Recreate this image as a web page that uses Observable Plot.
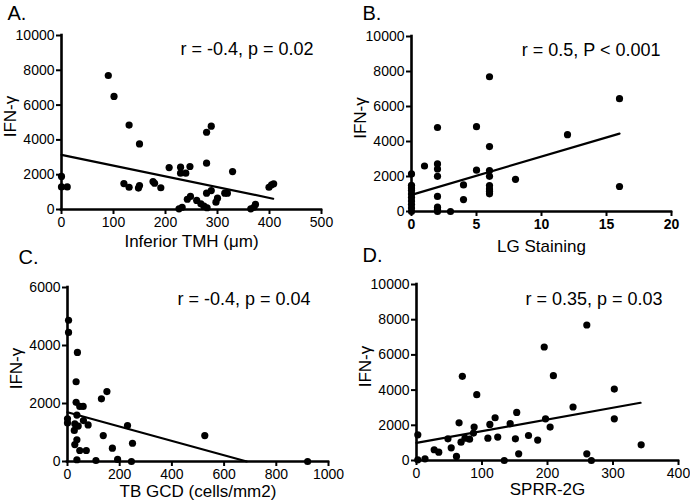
<!DOCTYPE html>
<html>
<head>
<meta charset="utf-8">
<script src="https://cdn.jsdelivr.net/npm/d3@7"></script>
<script src="https://cdn.jsdelivr.net/npm/@observablehq/plot@0.6"></script>
<style>
  body { margin: 0; background: #fff; }
  #wrap { position: relative; width: 690px; height: 504px; font-family: "Liberation Sans", Arial, sans-serif; }
  .panel { position: absolute; }
</style>
</head>
<body>
<div id="wrap"></div>
<script>
// ---- Panel A: Inferior TMH vs IFN-γ ----
const tmhX = [0, 0, 11, 90, 101, 130, 150, 120, 130, 148, 150, 176, 179, 191, 207, 229, 229, 239, 247, 226, 232, 242, 248, 260, 268, 274, 280, 279, 288, 279, 279, 288, 297, 300, 314, 319, 329, 364, 370, 373, 399, 404, 408];
const tmhY = [1900, 1300, 1300, 7700, 6500, 4850, 3770, 1490, 1280, 1230, 1380, 1610, 1510, 1250, 2410, 2430, 2090, 2090, 2470, 40, 130, 590, 750, 520, 325, 190, 100, 4440, 4790, 2660, 940, 1090, 420, 650, 940, 940, 2180, 40, 130, 290, 1280, 1420, 1480];
const tmhFitX = [0, 407];
const tmhFitY = [3140, 620];
const tmhTicksX = [0, 100, 200, 300, 400, 500];

// ---- Panel B: LG Staining vs IFN-γ ----
const lgX = [0, 0, 0, 0, 0, 0, 0, 0, 0, 0, 1, 2, 2, 2, 2, 2, 2, 2, 2, 3, 4, 4, 5, 5, 6, 6, 6, 6, 6, 6, 6, 6, 8, 12, 16, 16];
const lgY = [2150, 1500, 1350, 1200, 1000, 800, 600, 400, 200, 0, 2600, 4800, 2720, 2430, 2010, 860, 250, 110, 0, 0, 1520, 680, 4850, 2360, 7700, 3710, 2340, 2010, 1480, 1290, 1160, 1010, 1840, 4390, 6450, 1430];
const lgFitX = [0, 16];
const lgFitY = [950, 4450];
const lgTicksX = [0, 5, 10, 15, 20];

// ---- Panel C: TB GCD vs IFN-γ ----
const gcdX = [4, 4, 0, 0, 38, 33, 33, 47, 60, 36, 61, 28, 41, 79, 26, 130, 151, 36, 28, 47, 72, 36, 109, 137, 172, 192, 245, 230, 249, 526, 920];
const gcdY = [4870, 4450, 1470, 1330, 3760, 2750, 2040, 1900, 1900, 1600, 1410, 1300, 1220, 1260, 1070, 2160, 2410, 750, 585, 380, 380, 60, 35, 895, 460, 70, 0, 1240, 630, 895, 0];
const gcdFitX = [0, 687];
const gcdFitY = [1700, 0];
const gcdTicksX = [0, 200, 400, 600, 800, 1000];
const gcdTicksY = [0, 2000, 4000, 6000];

// ---- Panel D: SPRR-2G vs IFN-γ ----
const sprrX = [2, 2, 13, 27, 34, 48, 53, 61, 65, 68, 70, 74, 81, 88, 87, 92, 109, 112, 120, 124, 134, 143, 153, 151, 156, 171, 185, 195, 197, 204, 209, 239, 260, 260, 267, 302, 302, 343];
const sprrY = [1460, 40, 95, 610, 475, 1230, 720, 230, 2140, 1040, 4780, 1270, 1210, 1900, 1560, 3740, 1270, 2050, 2430, 1330, 0, 2090, 2730, 1230, 380, 1420, 1160, 6450, 2370, 1900, 4820, 3040, 380, 7700, 0, 4060, 2370, 890];
const sprrFitX = [0, 342];
const sprrFitY = [1000, 3280];
const sprrTicksX = [0, 100, 200, 300, 400];

const ifnTicksY = [0, 2000, 4000, 6000, 8000, 10000];

const FONT = '"Liberation Sans", Arial, sans-serif';

function panel(c) {
  const pts = c.X.map((x, i) => ({x, y: c.Y[i]}));
  const fit = c.fitX.map((x, i) => ({x, y: c.fitY[i]}));
  const xDom = [c.xTicks[0], c.xTicks[c.xTicks.length - 1]];
  const yDom = [c.yTicks[0], c.yTicks[c.yTicks.length - 1]];
  return Plot.plot({
    width: 345, height: 252,
    marginLeft: c.ml, marginRight: c.mr, marginTop: c.mt, marginBottom: c.mb,
    style: {fontFamily: FONT, color: "#000", background: "transparent", overflow: "visible"},
    x: {domain: xDom},
    y: {domain: yDom},
    marks: [
      Plot.axisX({ticks: c.xTicks, tickSize: 5, tickPadding: 3, strokeWidth: 2, fontSize: 14, fontWeight: c.boldX ? "bold" : "normal", label: null, tickFormat: d => String(d)}),
      Plot.axisY({ticks: c.yTicks, tickSize: 5, tickPadding: 2, strokeWidth: 2, fontSize: 14, label: null, tickFormat: d => String(d)}),
      Plot.ruleY([0], {strokeWidth: 2.6, strokeLinecap: "square"}),
      Plot.ruleX([0], {strokeWidth: 2.6, strokeLinecap: "square"}),
      Plot.line(fit, {x: "x", y: "y", stroke: "#000", strokeWidth: 2.2}),
      Plot.dot(pts, {x: "x", y: "y", r: 3.6, fill: "#000", stroke: "none"}),
      Plot.text([c.letter], {text: d => d, frameAnchor: "top-left", textAnchor: "start", lineAnchor: "bottom", dx: c.letterDx, dy: c.letterDy, fontSize: 20}),
      Plot.text([c.note], {text: d => d, frameAnchor: "top-right", textAnchor: "end", lineAnchor: "bottom", dx: c.noteDx, dy: c.noteDy, fontSize: 18}),
      Plot.text([c.xLabel], {text: d => d, frameAnchor: "bottom", textAnchor: "middle", lineAnchor: "bottom", dy: c.xLabelDy, fontSize: 17}),
      Plot.text(["IFN-γ"], {text: d => d, frameAnchor: "left", textAnchor: "middle", lineAnchor: "middle", rotate: -90, dx: -51, dy: -6, fontSize: 17})
    ]
  });
}

const panels = [
  {left: 0, top: 0, X: tmhX, Y: tmhY, fitX: tmhFitX, fitY: tmhFitY, xTicks: tmhTicksX, yTicks: ifnTicksY,
   ml: 61, mr: 24, mt: 35, mb: 43, letter: "A.", letterDx: -54, letterDy: -16,
   note: "r = -0.4, p = 0.02", noteDx: -8, noteDy: 19, xLabel: "Inferior TMH (μm)", xLabelDy: 37},
  {left: 345, top: 0, X: lgX, Y: lgY, fitX: lgFitX, fitY: lgFitY, xTicks: lgTicksX, yTicks: ifnTicksY, boldX: true,
   ml: 66, mr: 19, mt: 36, mb: 41, letter: "B.", letterDx: -49, letterDy: -17,
   note: "r = 0.5, P < 0.001", noteDx: -11, noteDy: 19, xLabel: "LG Staining", xLabelDy: 40},
  {left: 0, top: 252, X: gcdX, Y: gcdY, fitX: gcdFitX, fitY: gcdFitY, xTicks: gcdTicksX, yTicks: gcdTicksY,
   ml: 67, mr: 17, mt: 35, mb: 43, letter: "C.", letterDx: -49, letterDy: -24,
   note: "r = -0.4, p = 0.04", noteDx: -18, noteDy: 17, xLabel: "TB GCD (cells/mm2)", xLabelDy: 35},
  {left: 345, top: 252, X: sprrX, Y: sprrY, fitX: sprrFitX, fitY: sprrFitY, xTicks: sprrTicksX, yTicks: ifnTicksY,
   ml: 71, mr: 12, mt: 32, mb: 44, letter: "D.", letterDx: -54, letterDy: -23,
   note: "r = 0.35, p = 0.03", noteDx: -16, noteDy: 20, xLabel: "SPRR-2G", xLabelDy: 34}
];

const wrap = document.getElementById("wrap");
for (const p of panels) {
  const svg = panel(p);
  const div = document.createElement("div");
  div.className = "panel";
  div.style.left = p.left + "px";
  div.style.top = p.top + "px";
  div.appendChild(svg);
  wrap.appendChild(div);
}
</script>
</body>
</html>
